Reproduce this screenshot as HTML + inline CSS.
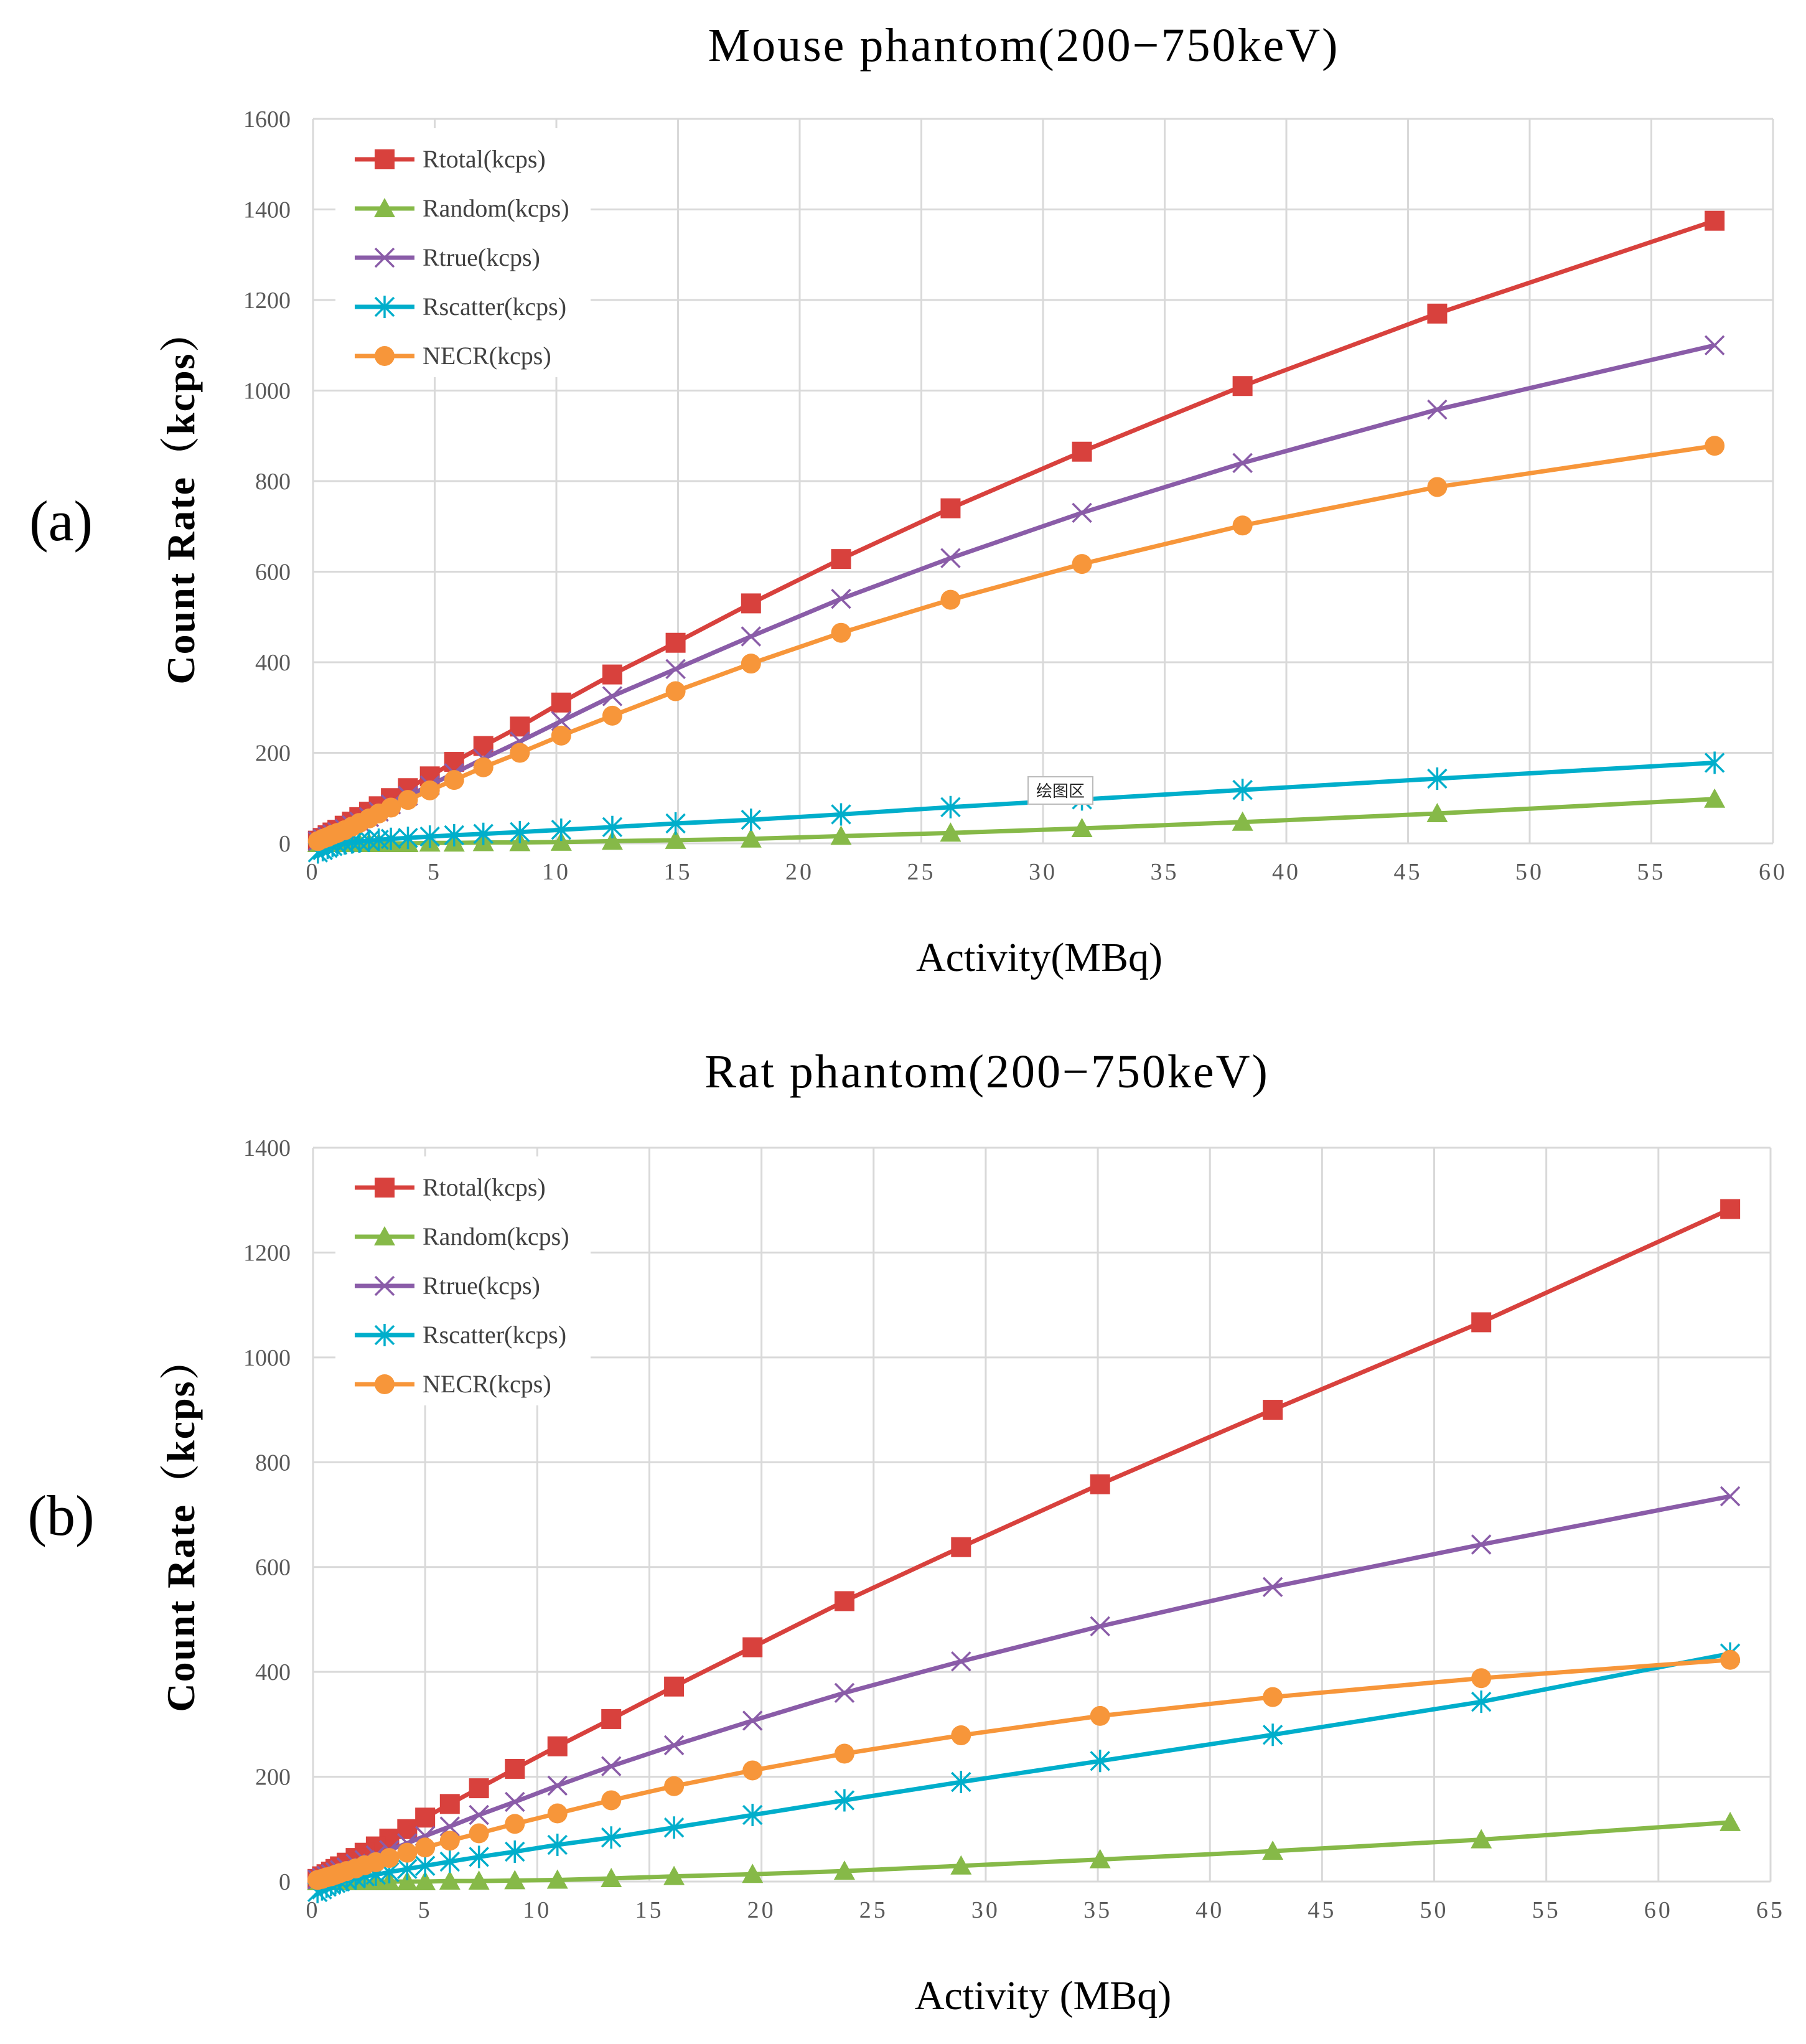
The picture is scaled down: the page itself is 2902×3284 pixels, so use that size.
<!DOCTYPE html>
<html><head><meta charset="utf-8"><style>
html,body{margin:0;padding:0;background:#fff;}
svg{display:block;font-family:"Liberation Serif","Noto Serif CJK SC",serif;}
</style></head><body>
<svg id="root" width="2902" height="3284" viewBox="0 0 2902 3284" xmlns="http://www.w3.org/2000/svg">
<rect width="2902" height="3284" fill="#fff"/>
<text x="1645" y="98" font-size="76" text-anchor="middle" letter-spacing="3">Mouse phantom(200−750keV)</text>
<text x="98" y="868" font-size="92" text-anchor="middle">(a)</text>
<text transform="translate(312,800) rotate(-90)" font-size="64" text-anchor="middle" font-weight="bold" letter-spacing="2">Count Rate（kcps）</text>
<text x="1670" y="1560" font-size="66" text-anchor="middle">Activity(MBq)</text>

<text x="1586" y="1747" font-size="76" text-anchor="middle" letter-spacing="3">Rat phantom(200−750keV)</text>
<text x="98" y="2466" font-size="92" text-anchor="middle">(b)</text>
<text transform="translate(312,2451) rotate(-90)" font-size="64" text-anchor="middle" font-weight="bold" letter-spacing="2">Count Rate（kcps）</text>
<text x="1676" y="3228" font-size="66" text-anchor="middle">Activity (MBq)</text>
<g id="chartA"></g>
<g id="chartB"></g>
</svg>
<script>
// ---- Chart A data (Mouse phantom) ----
const xA = [0.2,0.4,0.6,0.8,1.0,1.3,1.6,1.9,2.3,2.7,3.2,3.9,4.8,5.8,7.0,8.5,10.2,12.3,14.9,18.0,21.7,26.2,31.6,38.2,46.2,57.6];
const rtotalA = [6,12,18,24,30,39,48,58,70,82,100,122,148,180,215,258,311,373,443,530,628,740,865,1010,1170,1375];
const randomA = [0,0,0,0,0,0,0,0,0,0,0,0,1,1,2,2,3,5,7,10,16,23,33,47,66,98];
const rtrueA = [5,10,15,20,25,32,40,48,58,70,86,105,128,155,187,225,270,325,385,457,540,630,730,840,958,1100];
const rscatterA = [-20,-15,-10,-6,-3,0,2,4,6,8,10,12,15,18,21,25,30,36,44,52,64,80,97,118,143,178];
const necrA = [5,10,14,19,23,29,37,45,55,66,79,96,117,140,168,200,238,282,336,397,465,538,617,702,787,878];
const xTicksA = [0,5,10,15,20,25,30,35,40,45,50,55,60];
const yTicksA = [0,200,400,600,800,1000,1200,1400,1600];
// ---- Chart B data (Rat phantom) ----
const xB = [63.2,52.1,42.8,35.1,28.9,23.7,19.6,16.1,13.3,10.9,9.0,7.4,6.1,5.0,4.2,3.4,2.8,2.3,1.9,1.5,1.2,1.0,0.8,0.6,0.4,0.2];
const rtotalB = [1283,1067,900,758,638,535,447,372,310,258,215,178,148,122,100,82,67,55,45,36,29,24,19,14,10,5];
const randomB = [113,80,58,42,30,20,14,10,6,3,2,1,1,0,0,0,0,0,0,0,0,0,0,0,0,0];
const rtrueB = [735,643,562,487,420,360,307,260,220,183,152,127,105,87,73,60,50,41,34,27,22,18,14,11,7,4];
const rscatterB = [435,343,280,230,190,155,127,103,84,70,57,47,38,30,24,18,13,10,6,3,0,-3,-6,-10,-15,-20];
const necrB = [423,388,352,316,279,244,212,182,155,130,110,92,78,65,55,45,37,31,25,20,16,13,10,8,5,3];
const xTicksB = [0,5,10,15,20,25,30,35,40,45,50,55,60,65];
const yTicksB = [0,200,400,600,800,1000,1200,1400];
const seriesNames = ["Rtotal(kcps)","Random(kcps)","Rtrue(kcps)","Rscatter(kcps)","NECR(kcps)"];

const NS="http://www.w3.org/2000/svg";
const colors=["#D8413D","#86B948","#8A5CA8","#00AECB","#F7963A"];
const markers=["square","triangle","x","star","circle"];
function mk(tag,attrs,parent){const e=document.createElementNS(NS,tag);for(const k in attrs)e.setAttribute(k,attrs[k]);parent.appendChild(e);return e;}
function marker(g,type,cx,cy,c){
  let e;
  if(type==="square"){e=mk("rect",{x:cx-16,y:cy-16,width:32,height:32,fill:c},g);}
  else if(type==="triangle"){e=mk("polygon",{points:`${cx},${cy-17} ${cx+17},${cy+14} ${cx-17},${cy+14}`,fill:c},g);}
  else if(type==="circle"){e=mk("circle",{cx:cx,cy:cy,r:16,fill:c},g);}
  else if(type==="x"){e=mk("path",{d:`M${cx-15} ${cy-15}L${cx+15} ${cy+15}M${cx-15} ${cy+15}L${cx+15} ${cy-15}`,stroke:c,"stroke-width":3.5,fill:"none"},g);}
  else {e=mk("path",{d:`M${cx-15} ${cy-15}L${cx+15} ${cy+15}M${cx-15} ${cy+15}L${cx+15} ${cy-15}M${cx} ${cy-18}L${cx} ${cy+18}`,stroke:c,"stroke-width":3.5,fill:"none"},g);}
  return e;
}
function chart(g,cfg){
  const {left,right,top,bottom,xMax,yMax,xTicks,yTicks,xs,series,legY,tag}=cfg;
  const X=v=>left+(v/xMax)*(right-left);
  const Y=v=>bottom-(v/yMax)*(bottom-top);
  const grid=mk("g",{},g);
  
  
  xTicks.forEach(t=>{
    mk("line",{x1:X(t),x2:X(t),y1:top,y2:bottom,stroke:"#d9d9d9","stroke-width":3},grid);
    const tx=mk("text",{x:X(t),y:bottom+58,"font-size":38,fill:"#595959","text-anchor":"middle","letter-spacing":4},g);
    tx.textContent=t;
    
    
  });
  yTicks.forEach(t=>{
    mk("line",{x1:left,x2:right,y1:Y(t),y2:Y(t),stroke:"#d9d9d9","stroke-width":3},grid);
    const tx=mk("text",{x:left-36,y:Y(t)+13,"font-size":38,fill:"#595959","text-anchor":"end"},g);
    tx.textContent=t;
    
    
  });
  // legend background
  const lg=mk("g",{},g);
  
  
  mk("rect",{x:left+36,y:legY-50,width:410,height:400,fill:"#fff"},lg);
  series.forEach((s,i)=>{
    const sg=mk("g",{},g);
    
    
    const pts=xs.map((x,j)=>X(x)+","+Y(s[j])).join(" ");
    mk("polyline",{points:pts,fill:"none",stroke:colors[i],"stroke-width":7,"stroke-linejoin":"round"},sg);
    xs.forEach((x,j)=>{
      const m=marker(sg,markers[i],X(x),Y(s[j]),colors[i]);
      
      
    });
  });
  seriesNames.forEach((n,i)=>{
    const y=legY+i*79;
    const e=mk("g",{},lg);
    
    
    mk("line",{x1:left+67,x2:left+163,y1:y,y2:y,stroke:colors[i],"stroke-width":7},e);
    marker(e,markers[i],left+115,y,colors[i]);
    const t=mk("text",{x:left+176,y:y+13,"font-size":40,fill:"#404040"},e);
    t.textContent=n;
  });
}
chart(document.getElementById("chartA"),{left:503,right:2849,top:191,bottom:1355,xMax:60,yMax:1600,xTicks:xTicksA,yTicks:yTicksA,xs:xA,series:[rtotalA,randomA,rtrueA,rscatterA,necrA],legY:256,tag:"a"});
chart(document.getElementById("chartB"),{left:503,right:2845,top:1844,bottom:3023,xMax:65,yMax:1400,xTicks:xTicksB,yTicks:yTicksB,xs:xB,series:[rtotalB,randomB,rtrueB,rscatterB,necrB],legY:1908,tag:"b"});
// small tooltip label in chart A
const tip=mk("g",{},document.getElementById("chartA"));


mk("rect",{x:1652,y:1248,width:104,height:44,fill:"#fff",stroke:"#bbb","stroke-width":2},tip);
const tt=mk("text",{x:1704,y:1280,"font-size":26,"text-anchor":"middle",fill:"#222","font-family":"Noto Sans CJK SC, sans-serif"},tip);
tt.textContent="绘图区";
</script>
</body></html>
